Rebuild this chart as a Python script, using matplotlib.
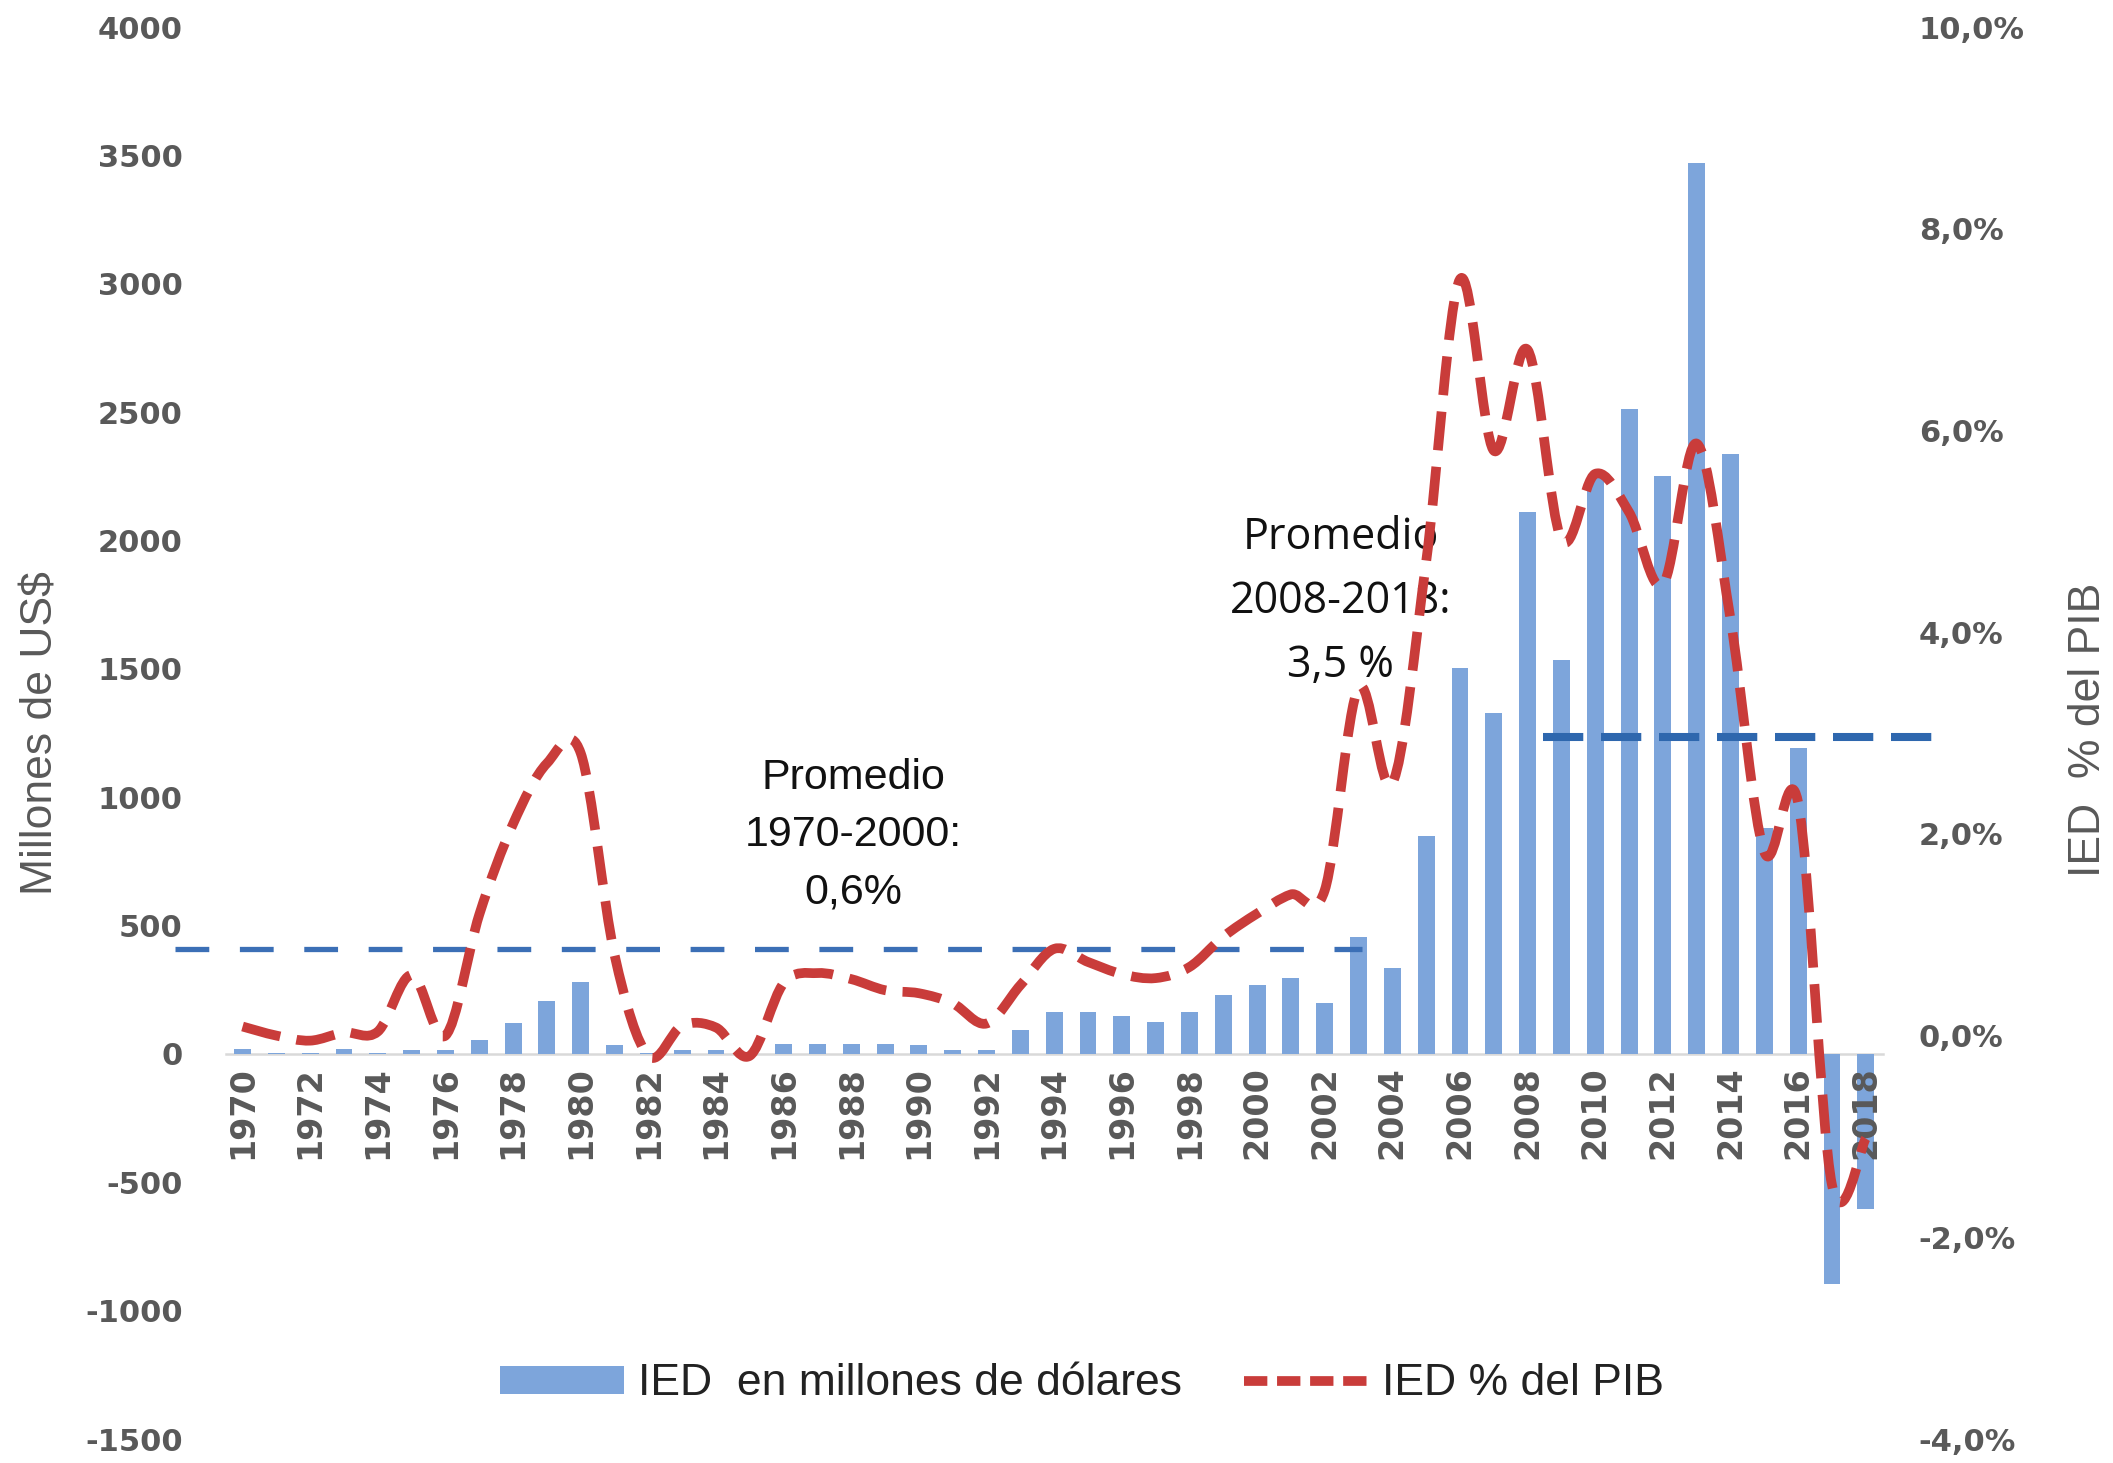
import matplotlib
matplotlib.use('Agg')
import matplotlib.pyplot as plt
import numpy as np
from matplotlib.path import Path
from matplotlib.patches import PathPatch, Patch
from matplotlib.lines import Line2D
from matplotlib.ticker import FuncFormatter

plt.rcParams['axes.unicode_minus'] = False

# ---------------- data ----------------
years = list(range(1970, 2019))
ied_musd = [20, 2, 2, 20, 2, 16, 16, 55, 121, 207,
            280, 33, 2, 16, 16, 2, 40, 40, 40, 40,
            33, 16, 16, 95, 163, 163, 148, 124, 163, 231,
            267, 296, 200, 455, 336, 850, 1502, 1328, 2112, 1535,
            2250, 2512, 2250, 3470, 2335, 880, 1192, -895, -605]
ied_pct = [0.09, 0.0, -0.05, 0.03, 0.04, 0.60, 0.0, 1.20, 2.10, 2.70,
           2.80, 0.80, -0.20, 0.10, 0.08, -0.20, 0.52, 0.62, 0.56, 0.45,
           0.42, 0.32, 0.12, 0.50, 0.86, 0.73, 0.61, 0.57, 0.68, 0.98,
           1.21, 1.40, 1.44, 3.45, 2.50, 4.70, 7.50, 5.80, 6.80, 4.92,
           5.57, 5.19, 4.47, 5.87, 4.13, 1.82, 2.31, -1.48, -1.02]

avg_texts = ["Promedio\n1970-2000:\n0,6%", "Promedio\n2008-2018:\n3,5 %"]
avg_levels = [0.86, 2.96]                       # % del PIB (as drawn)
avg_spans = [(1968.0, 2003.1), (2008.45, 2020.0)]

legend_labels = ["IED  en millones de dólares", "IED % del PIB"]
ylabel_left = "Millones de US$"
ylabel_right = "IED  % del PIB"

# ---------------- style ----------------
bar_color = '#7DA5DB'
red = '#C93C3A'
grey = '#595959'

fig = plt.figure(figsize=(21.13, 14.63), dpi=100)
ax = fig.add_axes([0.1068, 0.0164, 0.7842, 0.9651])

# spine first (repositioning resets tick formatting)
for s in ['top', 'right', 'left']:
    ax.spines[s].set_visible(False)
ax.spines['bottom'].set_position(('data', 0))
ax.spines['bottom'].set_color('#D9D9D9')
ax.spines['bottom'].set_linewidth(1.8)
ax.spines['bottom'].set_zorder(1)

ax.bar(years, ied_musd, width=0.5, color=bar_color, zorder=2)
ax.set_xlim(1969.5, 2018.5)
ax.set_ylim(-1500, 4000)
ax.set_yticks(range(-1500, 4001, 500))
ax.yaxis.set_major_formatter(FuncFormatter(lambda v, p: f"{int(v)}"))
ax.set_xticks(years[::2])
ax.set_xticklabels([str(y) for y in years[::2]])
ax.xaxis.set_zorder(2.5)

ax.tick_params(axis='y', length=0, pad=31, labelsize=22, labelcolor=grey)
ax.tick_params(axis='x', length=0, pad=9, labelsize=24, labelcolor=grey,
               labelrotation=90)
for t in ax.get_yticklabels() + ax.get_xticklabels():
    t.set_fontweight('bold')
    t.set_family('DejaVu Sans')

ax.set_ylabel(ylabel_left, fontsize=32, color=grey, family='Liberation Sans')
ax.yaxis.set_label_coords(-0.099, 0.50)

# annotation texts (left-axis units)
ax.text(1988.05, 853, avg_texts[0], ha='center', va='center', fontsize=31,
        family='Liberation Sans', color='#111111', linespacing=1.56, zorder=3)
ax.text(2002.47, 1760, avg_texts[1], ha='center', va='center', fontsize=31,
        family='Open Sans', color='#111111', linespacing=1.58, zorder=3)

# ---------------- right axis ----------------
ax2 = ax.twinx()
ax2.set_ylim(-4, 10)
ax2.set_yticks(np.arange(-4, 10.01, 2))
ax2.yaxis.set_major_formatter(FuncFormatter(lambda v, p: f"{v:.1f}".replace('.', ',') + '%'))
for s in ax2.spines.values():
    s.set_visible(False)
ax2.tick_params(axis='y', length=0, pad=26, labelsize=22, labelcolor=grey)
for t in ax2.get_yticklabels():
    t.set_fontweight('bold')
    t.set_family('DejaVu Sans')
ax2.set_ylabel(ylabel_right, fontsize=32, color=grey, family='Liberation Sans')
ax2.yaxis.set_label_coords(1.112, 0.502)

# average lines
ax2.plot(avg_spans[0], [avg_levels[0]] * 2, color='#3B6FB6', lw=3.8,
         linestyle=(0, (6.4, 5.8)), solid_capstyle='butt', zorder=2, clip_on=False)
ax2.plot(avg_spans[1], [avg_levels[1]] * 2, color='#2E67AE', lw=5.8,
         linestyle=(0, (5.0, 2.2)), solid_capstyle='butt', zorder=2, clip_on=False)


def smooth_path(x, y):
    pts = np.column_stack([x, y]).astype(float)
    n = len(pts)
    verts = [pts[0]]
    codes = [Path.MOVETO]
    for i in range(n - 1):
        p0 = pts[i - 1] if i > 0 else pts[i]
        p1 = pts[i]
        p2 = pts[i + 1]
        p3 = pts[i + 2] if i + 2 < n else pts[i + 1]
        c1 = p1 + (p2 - p0) / 6.0
        c2 = p2 - (p3 - p1) / 6.0
        verts += [c1, c2, p2]
        codes += [Path.CURVE4] * 3
    return Path(verts, codes)


red_patch = PathPatch(smooth_path(years, ied_pct), fill=False, edgecolor=red, lw=7,
                      linestyle=(0, (4.0, 1.7)), capstyle='butt', joinstyle='round',
                      transform=ax2.transData, zorder=4)
ax2.add_patch(red_patch)

handles = [Patch(facecolor=bar_color, edgecolor='none'),
           Line2D([0], [0], color=red, lw=7, linestyle=(0, (2.4, 1.0)))]
fig.legend(handles, legend_labels, loc='center', bbox_to_anchor=(0.512, 0.054),
           ncol=2, frameon=False, prop={'family': 'Liberation Sans', 'size': 32},
           handlelength=2.8, handleheight=0.6, handletextpad=0.3, columnspacing=1.4,
           labelcolor='#222222')

fig.savefig('out.png', dpi=100, facecolor='white')
